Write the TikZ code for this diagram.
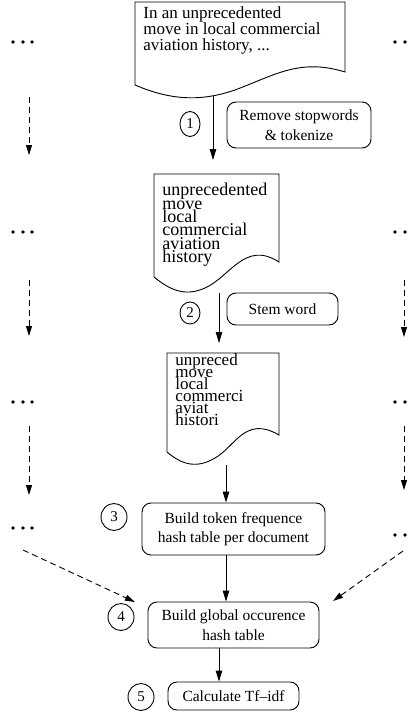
\documentclass[tikz,border=0pt]{standalone}
\usepackage{fontspec}
\setmainfont{Liberation Serif}
\usetikzlibrary{arrows.meta,shapes.geometric}
% let tightly set word lists overlap instead of being pushed apart
\lineskiplimit=-100pt
\begin{document}
\begin{tikzpicture}[x=1pt,y=-1pt,
  line width=0.9pt,
  flow/.style={-{Triangle[length=11pt,width=6.5pt]}},
  other/.style={dash pattern=on 6pt off 4pt, -{Triangle[length=10pt,width=6pt]}},
  stepbox/.style={draw, rounded corners=9pt, align=center, inner sep=0pt,
    font=\fontsize{15.5}{19.5}\selectfont},
  num/.style={draw, ellipse, inner sep=0pt, font=\fontsize{15}{15}\selectfont},
  doctext/.style={anchor=north west, align=left, inner sep=0pt},
  dot/.style={circle, fill, inner sep=0pt, minimum size=3.8pt}
]
\useasboundingbox (0,0) rectangle (412,715);

% ---- documents (wavy bottom edge) ----
\draw (135,85) -- (135,2) -- (345,2) -- (345,72)
  .. controls (300,58) and (275,75) .. (235,90)
  .. controls (200,102) and (170,100) .. (135,85) -- cycle;
\node[doctext, font=\fontsize{17}{16}\selectfont] (t1) at (143,6.4)
  {In an unprecedented\\move in local commercial\\aviation history, ...};

\draw (154,277) -- (154,174) -- (279,174) -- (279,262)
  .. controls (245,240) and (230,277) .. (205,288)
  .. controls (185,297) and (170,290) .. (154,277) -- cycle;
\node[doctext, font=\fontsize{18}{13.4}\selectfont] (t2) at (162,182.7)
  {unprecedented\\move\\local\\commercial\\aviation\\history};

\draw (167,452) -- (167,353) -- (279,353) -- (279,435)
  .. controls (245,415) and (235,447) .. (215,458)
  .. controls (195,470) and (180,463) .. (167,452) -- cycle;
\node[doctext, font=\fontsize{17}{12}\selectfont] (t3) at (175,353.4)
  {unpreced\\move\\local\\commerci\\aviat\\histori};

% ---- processing steps ----
\node[stepbox, minimum width=144pt, minimum height=46pt] (s1) at (299,125) {Remove stopwords\\\& tokenize};
\node[stepbox, minimum width=111pt, minimum height=32pt] (s2) at (282.5,309) {Stem word};
\node[stepbox, minimum width=183pt, minimum height=52pt] (s3) at (233.5,529) {Build token frequence\\hash table per document};
\node[stepbox, minimum width=171pt, minimum height=46pt] (s4) at (233.5,625) {Build global occurence\\hash table};
\node[stepbox, minimum width=131pt, minimum height=28pt] (s5) at (233.5,696) {Calculate Tf--idf};

% ---- step numbers ----
\node[num, minimum width=20pt, minimum height=25pt] (n1) at (190,124) {1};
\node[num, minimum width=20pt, minimum height=22pt] (n2) at (190,313) {2};
\node[num, minimum width=26pt, minimum height=27pt] (n3) at (114,517) {3};
\node[num, minimum width=26pt, minimum height=27pt] (n4) at (121,617) {4};
\node[num, minimum width=26pt, minimum height=27pt] (n5) at (141,697) {5};

% ---- main flow ----
\coordinate (d1out) at (213,96);
\coordinate (d1in) at (213,160);
\coordinate (d2out) at (219,293);
\coordinate (d2in) at (219,343);
\coordinate (d3out) at (226,465);
\coordinate (col5) at (219,0);
\draw[flow] (d1out) -- (d1in);
\draw[flow] (d2out) -- (d2in);
\draw[flow] (d3out) -- (d3out |- s3.north);
\draw[flow] (s3.south -| d3out) -- (s4.north -| d3out);
\draw[flow] (s4.south -| col5) -- (s5.north -| col5);

% ---- other documents, elided ----
\foreach \r/\yl/\yr in {1/42/42, 2/232/232, 3/402/402, 4/528/535} {
  \node[dot] (l\r a) at (13,\yl) {};
  \node[dot] (l\r b) at (23,\yl) {};
  \node[dot] (l\r c) at (32,\yl) {};
  \node[dot] (r\r a) at (395,\yr) {};
  \node[dot] (r\r b) at (405,\yr) {};
  \node[dot] (r\r c) at (414,\yr) {};
}

\coordinate (la1) at (29,97);  \coordinate (lb1) at (29,155);
\coordinate (la2) at (29,280); \coordinate (lb2) at (29,336);
\coordinate (la3) at (29,426); \coordinate (lb3) at (29,495);
\coordinate (ra2) at (404,280); \coordinate (rb2) at (404,337);
\coordinate (ra3) at (404,426); \coordinate (rb3) at (404,490);
\coordinate (lg) at (23,550);  \coordinate (lgend) at (135,602);
\coordinate (rg) at (403,551); \coordinate (rgend) at (333,601);

\draw[other] (la1) -- (lb1);
\draw[other] (la2) -- (lb2);
\draw[other] (la3) -- (lb3);
\draw[other] (ra2) -- (rb2);
\draw[other] (ra3) -- (rb3);
\draw[other] (lg) -- (lgend);
\draw[other] (rg) -- (rgend);
\end{tikzpicture}
\end{document}
